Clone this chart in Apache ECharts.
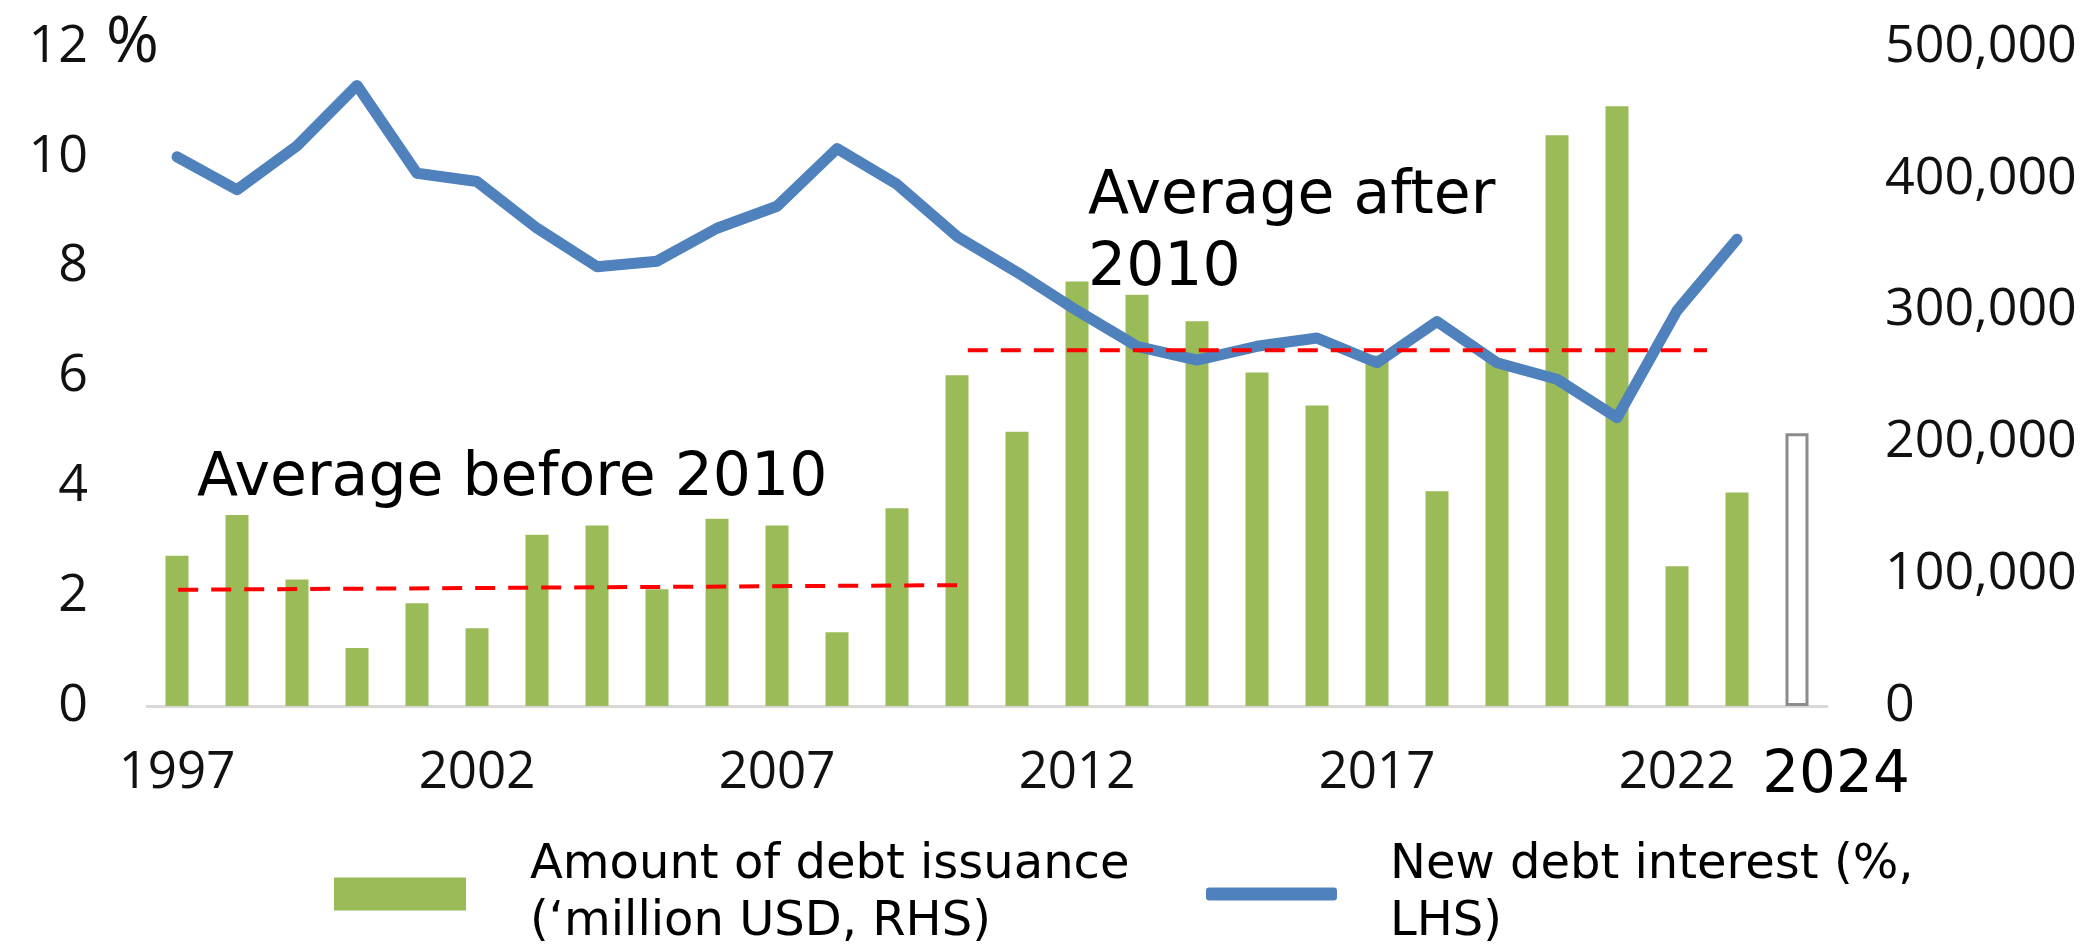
<!DOCTYPE html>
<html>
<head>
<meta charset="utf-8">
<script src="https://cdn.jsdelivr.net/npm/echarts@6/dist/echarts.min.js"></script>
<style>
html,body{margin:0;padding:0;background:#fff}
#main{width:2096px;height:947px}
</style>
</head>
<body>
<div id="main"></div>
<script>
// years on the x axis
const years = ['1997','1998','1999','2000','2001','2002','2003','2004','2005','2006','2007','2008','2009','2010',
  '2011','2012','2013','2014','2015','2016','2017','2018','2019','2020','2021','2022','2023','2024']
// debt issuance, million USD (RHS)
const issuance = [114000,145000,96000,44000,78000,59000,130000,137000,88500,142000,137000,56000,150000,251000,
  208000,322000,312000,292000,253000,228000,266000,163000,262000,433000,455000,106000,162000,207000]
// new debt interest, % (LHS)
const interest = [10.0,9.4,10.2,11.3,9.7,9.55,8.7,8.0,8.1,8.7,9.1,10.15,9.5,8.55,
  7.9,7.2,6.55,6.3,6.55,6.7,6.25,7.0,6.25,5.95,5.25,7.2,8.5,null]
// dashed average lines [year index, value on RHS]
const avgBefore = [[0.02,88200],[13.03,91700]]
const avgAfter = [[13.18,270000],[25.5,270000]]

const barName = 'Amount of debt issuance\n(\u2018million USD, RHS)'
const lineName = 'New debt interest (%,\nLHS)'
const axisFont = 'Open Sans'
const textFont = 'DejaVu Sans'

const chart = echarts.init(document.getElementById('main'))

const barData = issuance.map((v, i) => {
  if (years[i] === '2024') {
    return {value: v, itemStyle: {color: '#ffffff', borderColor: '#8c8c8c', borderWidth: 3}}
  }
  return v
})

const option = {
  animation: false,
  grid: {left: 147, right: 269, top: 47, bottom: 241},
  legend: [
    {
      data: [barName], left: 334, top: 837, padding: 0,
      icon: 'rect', itemWidth: 132, itemHeight: 33,
      textStyle: {fontFamily: textFont, fontSize: 48, lineHeight: 57, color: '#000', padding: [0,0,0,59]}
    },
    {
      data: [lineName], left: 1206, top: 837, padding: 0,
      icon: 'roundRect', itemWidth: 131, itemHeight: 13,
      textStyle: {fontFamily: textFont, fontSize: 48, lineHeight: 57, color: '#000', padding: [0,0,0,48]}
    }
  ],
  xAxis: [
    {
      type: 'category',
      data: years,
      axisTick: {show: false},
      axisLine: {lineStyle: {color: '#d9d9d9', width: 3}},
      axisLabel: {
        interval: (i) => i % 5 === 0 || i === years.length - 1,
        margin: 42,
        fontFamily: axisFont, fontSize: 51, color: '#111',
        formatter: (v) => v === '2024' ? '{big|2024}' : v,
        rich: {big: {fontFamily: textFont, fontSize: 58, color: '#000', padding: [0,0,0,78]}}
      }
    },
    {type: 'value', min: -0.5, max: 27.5, show: false}
  ],
  yAxis: [
    {
      type: 'value', min: 0, max: 12, interval: 2,
      splitLine: {show: false},
      axisLine: {show: false}, axisTick: {show: false},
      axisLabel: {margin: 59, fontFamily: axisFont, fontSize: 52, color: '#111'}
    },
    {
      type: 'value', min: 0, max: 500000, interval: 100000,
      splitLine: {show: false},
      axisLine: {show: false}, axisTick: {show: false},
      axisLabel: {
        margin: 58, fontFamily: axisFont, fontSize: 52, color: '#111',
        formatter: (v) => v.toLocaleString('en-US')
      }
    }
  ],
  series: [
    {
      name: barName, type: 'bar', yAxisIndex: 1,
      data: barData, barWidth: 23, color: '#9BBB59', z: 2
    },
    {
      name: lineName, type: 'line', yAxisIndex: 0,
      data: interest, color: '#4F81BD', showSymbol: false, symbol: 'none',
      lineStyle: {color: '#4F81BD', width: 11, join: 'round', cap: 'round'}, z: 3
    },
    {
      name: 'avgBefore', type: 'line', xAxisIndex: 1, yAxisIndex: 1,
      data: avgBefore, symbol: 'none', silent: true, z: 4,
      lineStyle: {color: '#ff0000', width: 4, type: [20, 13]}
    },
    {
      name: 'avgAfter', type: 'line', xAxisIndex: 1, yAxisIndex: 1,
      data: avgAfter, symbol: 'none', silent: true, z: 4,
      lineStyle: {color: '#ff0000', width: 4, type: [20, 13]}
    }
  ],
  graphic: [
    // unit of the left axis, sits next to the top tick label
    {type: 'text', left: 106, top: 12, z: 10,
      style: {text: '%', fontFamily: axisFont, fontSize: 64, fill: '#111'}},
    {type: 'text', left: 197, top: 449, z: 10,
      style: {text: 'Average before 2010', fontFamily: textFont, fontSize: 60, fill: '#000'}},
    {type: 'text', left: 1088, top: 161, z: 10,
      style: {text: 'Average after\n2010', fontFamily: textFont, fontSize: 60, lineHeight: 72, fill: '#000'}}
  ]
}

chart.setOption(option)
</script>
</body>
</html>
